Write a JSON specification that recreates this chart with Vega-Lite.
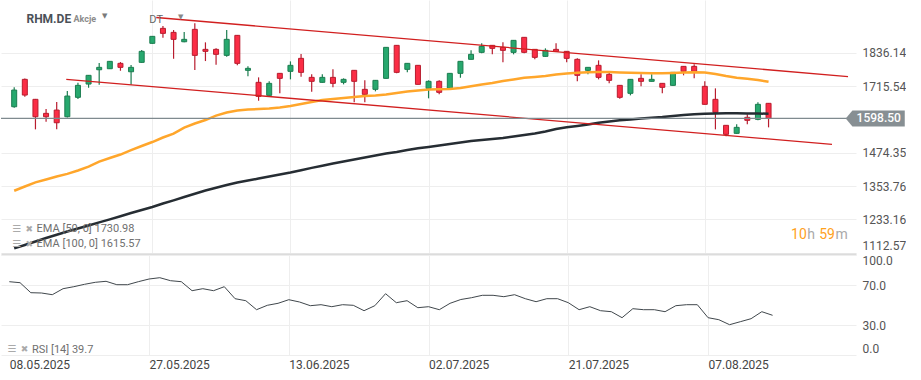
{
  "$schema": "https://vega.github.io/schema/vega-lite/v6.json",
  "padding": 0,
  "background": "white",
  "spacing": 0,
  "config": {"font": "Roboto", "view": {"stroke": null}},
  "datasets": {
    "k": [
      {"i":0,"d":"2025-05-08","o":1640.8,"h":1711.0,"l":1637.2,"c":1701.2,"e50":1336.9,"e100":1128.5,"rsi":73.3},
      {"i":1,"d":"2025-05-09","o":1739.9,"h":1742.8,"l":1677.0,"c":1683.1,"e50":1352.1,"e100":1140.4,"rsi":72.3},
      {"i":2,"d":"2025-05-12","o":1667.6,"h":1669.0,"l":1559.0,"c":1604.6,"e50":1367.3,"e100":1153.1,"rsi":62.3},
      {"i":3,"d":"2025-05-13","o":1616.9,"h":1632.5,"l":1586.5,"c":1604.6,"e50":1377.4,"e100":1165.8,"rsi":62.0},
      {"i":4,"d":"2025-05-14","o":1628.8,"h":1657.8,"l":1559.0,"c":1582.9,"e50":1388.3,"e100":1177.7,"rsi":60.3},
      {"i":5,"d":"2025-05-15","o":1604.6,"h":1697.6,"l":1602.0,"c":1679.5,"e50":1398.0,"e100":1189.3,"rsi":66.3},
      {"i":6,"d":"2025-05-16","o":1674.8,"h":1727.6,"l":1668.6,"c":1718.2,"e50":1410.0,"e100":1200.1,"rsi":68.3},
      {"i":7,"d":"2025-05-19","o":1722.9,"h":1755.5,"l":1709.5,"c":1754.4,"e50":1424.4,"e100":1211.0,"rsi":70.7},
      {"i":8,"d":"2025-05-20","o":1774.6,"h":1798.9,"l":1720.4,"c":1783.3,"e50":1442.5,"e100":1222.6,"rsi":72.7},
      {"i":9,"d":"2025-05-21","o":1778.3,"h":1806.0,"l":1777.0,"c":1805.0,"e50":1455.2,"e100":1233.4,"rsi":73.7},
      {"i":10,"d":"2025-05-22","o":1797.8,"h":1802.5,"l":1771.0,"c":1783.3,"e50":1467.9,"e100":1244.6,"rsi":70.3},
      {"i":11,"d":"2025-05-23","o":1767.4,"h":1791.6,"l":1720.4,"c":1783.3,"e50":1484.1,"e100":1256.2,"rsi":70.3},
      {"i":12,"d":"2025-05-26","o":1801.4,"h":1845.9,"l":1800.0,"c":1841.2,"e50":1498.6,"e100":1267.1,"rsi":73.3},
      {"i":13,"d":"2025-05-27","o":1870.2,"h":1896.5,"l":1869.0,"c":1895.5,"e50":1513.1,"e100":1277.9,"rsi":76.0},
      {"i":14,"d":"2025-05-28","o":1924.4,"h":1932.7,"l":1890.4,"c":1906.3,"e50":1529.4,"e100":1290.6,"rsi":77.3},
      {"i":15,"d":"2025-05-29","o":1909.9,"h":1918.3,"l":1814.4,"c":1884.6,"e50":1543.8,"e100":1302.2,"rsi":74.3},
      {"i":16,"d":"2025-05-30","o":1875.9,"h":1911.0,"l":1873.8,"c":1884.6,"e50":1565.5,"e100":1314.1,"rsi":73.3},
      {"i":17,"d":"2025-06-02","o":1920.8,"h":1942.5,"l":1773.6,"c":1826.7,"e50":1580.0,"e100":1326.0,"rsi":64.3},
      {"i":18,"d":"2025-06-03","o":1848.4,"h":1873.8,"l":1806.1,"c":1841.2,"e50":1592.7,"e100":1337.6,"rsi":66.3},
      {"i":19,"d":"2025-06-04","o":1848.4,"h":1852.1,"l":1792.7,"c":1830.4,"e50":1608.9,"e100":1347.4,"rsi":64.3},
      {"i":20,"d":"2025-06-05","o":1826.7,"h":1918.3,"l":1821.7,"c":1884.6,"e50":1619.8,"e100":1357.5,"rsi":68.3},
      {"i":21,"d":"2025-06-06","o":1899.1,"h":1900.0,"l":1790.6,"c":1797.8,"e50":1627.0,"e100":1366.6,"rsi":56.3},
      {"i":22,"d":"2025-06-09","o":1772.5,"h":1786.9,"l":1750.8,"c":1779.7,"e50":1630.6,"e100":1373.8,"rsi":54.3},
      {"i":23,"d":"2025-06-10","o":1729.1,"h":1747.1,"l":1662.5,"c":1678.4,"e50":1632.5,"e100":1381.0,"rsi":45.3},
      {"i":24,"d":"2025-06-11","o":1682.0,"h":1732.7,"l":1681.0,"c":1725.4,"e50":1634.3,"e100":1388.3,"rsi":49.7},
      {"i":25,"d":"2025-06-12","o":1761.6,"h":1762.5,"l":1689.3,"c":1743.5,"e50":1637.9,"e100":1395.5,"rsi":51.7},
      {"i":26,"d":"2025-06-13","o":1768.9,"h":1805.0,"l":1739.9,"c":1790.6,"e50":1643.3,"e100":1402.7,"rsi":55.3},
      {"i":27,"d":"2025-06-16","o":1815.9,"h":1831.4,"l":1749.3,"c":1765.2,"e50":1650.5,"e100":1411.0,"rsi":53.0},
      {"i":28,"d":"2025-06-17","o":1747.1,"h":1758.0,"l":1695.1,"c":1732.7,"e50":1657.8,"e100":1419.7,"rsi":49.3},
      {"i":29,"d":"2025-06-18","o":1729.1,"h":1758.0,"l":1728.0,"c":1747.1,"e50":1665.0,"e100":1427.3,"rsi":50.3},
      {"i":30,"d":"2025-06-19","o":1747.1,"h":1776.1,"l":1711.0,"c":1725.4,"e50":1668.6,"e100":1435.3,"rsi":48.3},
      {"i":31,"d":"2025-06-20","o":1729.1,"h":1743.5,"l":1721.8,"c":1739.9,"e50":1672.3,"e100":1442.5,"rsi":50.3},
      {"i":32,"d":"2025-06-23","o":1772.5,"h":1773.5,"l":1656.7,"c":1732.7,"e50":1675.9,"e100":1449.8,"rsi":49.7},
      {"i":33,"d":"2025-06-24","o":1703.7,"h":1736.3,"l":1656.7,"c":1685.6,"e50":1679.5,"e100":1457.0,"rsi":44.3},
      {"i":34,"d":"2025-06-25","o":1703.7,"h":1737.0,"l":1696.5,"c":1736.3,"e50":1681.3,"e100":1464.2,"rsi":49.3},
      {"i":35,"d":"2025-06-26","o":1743.5,"h":1856.5,"l":1742.5,"c":1855.7,"e50":1684.9,"e100":1471.5,"rsi":61.3},
      {"i":36,"d":"2025-06-27","o":1862.9,"h":1864.0,"l":1761.6,"c":1765.2,"e50":1690.3,"e100":1476.9,"rsi":52.3},
      {"i":37,"d":"2025-06-30","o":1776.1,"h":1798.5,"l":1765.2,"c":1797.8,"e50":1695.8,"e100":1484.1,"rsi":54.3},
      {"i":38,"d":"2025-07-01","o":1790.6,"h":1791.5,"l":1721.0,"c":1721.8,"e50":1699.4,"e100":1490.3,"rsi":47.3},
      {"i":39,"d":"2025-07-02","o":1707.3,"h":1736.3,"l":1671.2,"c":1732.7,"e50":1703.0,"e100":1495.0,"rsi":48.3},
      {"i":40,"d":"2025-07-03","o":1732.7,"h":1736.3,"l":1685.6,"c":1692.9,"e50":1704.1,"e100":1500.4,"rsi":45.3},
      {"i":41,"d":"2025-07-04","o":1707.3,"h":1762.5,"l":1706.5,"c":1761.6,"e50":1704.8,"e100":1505.8,"rsi":51.7},
      {"i":42,"d":"2025-07-07","o":1761.6,"h":1806.0,"l":1745.7,"c":1805.0,"e50":1708.4,"e100":1511.3,"rsi":55.5},
      {"i":43,"d":"2025-07-08","o":1812.3,"h":1844.8,"l":1811.5,"c":1830.4,"e50":1714.6,"e100":1516.7,"rsi":57.3},
      {"i":44,"d":"2025-07-09","o":1837.6,"h":1870.2,"l":1834.0,"c":1859.3,"e50":1721.1,"e100":1520.3,"rsi":59.7},
      {"i":45,"d":"2025-07-10","o":1862.9,"h":1864.0,"l":1830.4,"c":1852.1,"e50":1726.5,"e100":1523.9,"rsi":59.7},
      {"i":46,"d":"2025-07-11","o":1855.7,"h":1873.8,"l":1801.4,"c":1844.8,"e50":1733.8,"e100":1527.5,"rsi":58.3},
      {"i":47,"d":"2025-07-14","o":1837.6,"h":1882.0,"l":1830.4,"c":1881.0,"e50":1739.2,"e100":1533.0,"rsi":60.3},
      {"i":48,"d":"2025-07-15","o":1891.9,"h":1893.0,"l":1834.0,"c":1837.6,"e50":1745.3,"e100":1538.4,"rsi":56.3},
      {"i":49,"d":"2025-07-16","o":1848.4,"h":1849.5,"l":1812.3,"c":1819.5,"e50":1748.2,"e100":1543.8,"rsi":53.3},
      {"i":50,"d":"2025-07-17","o":1823.1,"h":1852.1,"l":1822.0,"c":1844.8,"e50":1751.8,"e100":1551.1,"rsi":56.3},
      {"i":51,"d":"2025-07-18","o":1848.4,"h":1870.2,"l":1840.0,"c":1841.2,"e50":1757.3,"e100":1560.1,"rsi":56.3},
      {"i":52,"d":"2025-07-21","o":1841.2,"h":1842.0,"l":1801.4,"c":1815.9,"e50":1760.9,"e100":1566.2,"rsi":52.3},
      {"i":53,"d":"2025-07-22","o":1812.3,"h":1815.9,"l":1732.7,"c":1754.4,"e50":1763.4,"e100":1571.0,"rsi":45.3},
      {"i":54,"d":"2025-07-23","o":1772.5,"h":1784.0,"l":1758.0,"c":1783.3,"e50":1765.2,"e100":1576.4,"rsi":48.3},
      {"i":55,"d":"2025-07-24","o":1790.6,"h":1808.6,"l":1739.9,"c":1747.1,"e50":1766.3,"e100":1582.9,"rsi":44.3},
      {"i":56,"d":"2025-07-25","o":1758.0,"h":1765.2,"l":1725.4,"c":1736.3,"e50":1766.3,"e100":1587.2,"rsi":43.3},
      {"i":57,"d":"2025-07-28","o":1718.2,"h":1719.0,"l":1669.7,"c":1674.8,"e50":1764.5,"e100":1591.6,"rsi":37.3},
      {"i":58,"d":"2025-07-29","o":1689.3,"h":1741.0,"l":1682.0,"c":1739.9,"e50":1763.4,"e100":1594.5,"rsi":46.3},
      {"i":59,"d":"2025-07-30","o":1743.5,"h":1758.0,"l":1714.6,"c":1732.7,"e50":1762.7,"e100":1598.1,"rsi":45.3},
      {"i":60,"d":"2025-07-31","o":1732.7,"h":1758.0,"l":1732.0,"c":1739.9,"e50":1761.6,"e100":1601.0,"rsi":45.3},
      {"i":61,"d":"2025-08-01","o":1725.4,"h":1726.0,"l":1689.3,"c":1711.0,"e50":1761.6,"e100":1603.5,"rsi":43.3},
      {"i":62,"d":"2025-08-04","o":1718.2,"h":1766.0,"l":1717.0,"c":1765.2,"e50":1762.7,"e100":1607.1,"rsi":49.3},
      {"i":63,"d":"2025-08-05","o":1786.9,"h":1787.5,"l":1754.4,"c":1768.9,"e50":1764.5,"e100":1610.8,"rsi":50.3},
      {"i":64,"d":"2025-08-06","o":1786.9,"h":1794.2,"l":1743.5,"c":1768.9,"e50":1765.2,"e100":1613.6,"rsi":50.3},
      {"i":65,"d":"2025-08-07","o":1714.6,"h":1732.7,"l":1648.5,"c":1649.5,"e50":1764.5,"e100":1615.1,"rsi":37.3},
      {"i":66,"d":"2025-08-08","o":1667.6,"h":1707.3,"l":1559.0,"c":1620.5,"e50":1759.1,"e100":1616.2,"rsi":35.3},
      {"i":67,"d":"2025-08-11","o":1573.5,"h":1574.5,"l":1533.7,"c":1540.9,"e50":1751.8,"e100":1616.9,"rsi":30.3},
      {"i":68,"d":"2025-08-12","o":1544.5,"h":1577.1,"l":1543.5,"c":1566.2,"e50":1745.7,"e100":1616.9,"rsi":33.3},
      {"i":69,"d":"2025-08-13","o":1602.4,"h":1613.3,"l":1577.1,"c":1591.6,"e50":1741.7,"e100":1616.5,"rsi":36.3},
      {"i":70,"d":"2025-08-14","o":1595.2,"h":1656.7,"l":1591.6,"c":1649.5,"e50":1737.4,"e100":1616.2,"rsi":43.3},
      {"i":71,"d":"2025-08-15","o":1653.1,"h":1654.0,"l":1566.2,"c":1598.5,"e50":1730.98,"e100":1615.57,"rsi":39.7}
    ],
    "ch": [
      {"line":"top","i":13.37,"p":1963.7},
      {"line":"top","i":78.48,"p":1749.9},
      {"line":"bot","i":4.9,"p":1740.1},
      {"line":"bot","i":76.97,"p":1504.9}
    ]
  },
  "vconcat": [
    {
      "width": 855,
      "height": 254,
      "data": {"name": "k"},
      "layer": [
        {
          "mark": {"type": "rule", "strokeWidth": 1.2},
          "encoding": {
            "x": {"field": "i", "type": "quantitative", "title": null,
              "scale": {"domain": [-0.772, 78.76], "nice": false, "zero": false},
              "axis": {"values": [0, 13, 26, 39, 52, 65], "tickCount": 20, "labels": false, "ticks": false, "domain": true, "domainColor": "#dcdcdc", "domainWidth": 2, "grid": true,
                "gridColor": {"condition": {"test": "datum.value === 0", "value": "rgba(0,0,0,0)"}, "value": "#eeeeee"}}},
            "y": {"field": "l", "type": "quantitative", "title": null,
              "scale": {"domain": [1108, 2027], "nice": false, "zero": false},
              "axis": {"orient": "right", "values": [1112.57, 1233.16, 1353.76, 1474.35, 1715.54, 1836.14], "tickCount": 20, "format": ".2f", "domain": false, "ticks": false, "grid": true, "gridColor": "#eeeeee",
                "labelColor": "#555555", "labelFontSize": 12, "labelPadding": 6, "labelOverlap": false,
                "labelBaseline": {"condition": {"test": "datum.value < 1200", "value": "bottom"}, "value": "middle"}}},
            "y2": {"field": "h"},
            "color": {"condition": {"test": "datum.c >= datum.o", "value": "#1c7d50"}, "value": "#b81c2e"}
          }
        },
        {
          "mark": {"type": "bar", "size": 5, "strokeWidth": 1},
          "encoding": {
            "x": {"field": "i", "type": "quantitative", "title": null},
            "y": {"field": "o", "type": "quantitative", "title": null},
            "y2": {"field": "c"},
            "fill": {"condition": {"test": "datum.c >= datum.o", "value": "#27a86e"}, "value": "#fb2d45"},
            "stroke": {"condition": {"test": "datum.c >= datum.o", "value": "#1c7d50"}, "value": "#b81c2e"}
          }
        },
        {
          "mark": {"type": "line", "color": "#ffa62b", "strokeWidth": 2.5},
          "encoding": {
            "x": {"field": "i", "type": "quantitative", "title": null},
            "y": {"field": "e50", "type": "quantitative", "title": null}
          }
        },
        {
          "mark": {"type": "line", "color": "#262d33", "strokeWidth": 2.5},
          "encoding": {
            "x": {"field": "i", "type": "quantitative", "title": null},
            "y": {"field": "e100", "type": "quantitative", "title": null}
          }
        },
        {
          "data": {"name": "ch"},
          "mark": {"type": "line", "color": "#d11f1f", "strokeWidth": 1.3},
          "encoding": {
            "x": {"field": "i", "type": "quantitative", "title": null},
            "y": {"field": "p", "type": "quantitative", "title": null},
            "detail": {"field": "line"}
          }
        },
        {
          "data": {"values": [{}]},
          "mark": {"type": "rule", "color": "#7f8a8f", "strokeWidth": 1.2},
          "encoding": {"y": {"datum": 1598.5, "type": "quantitative"}}
        },
        {
          "data": {"values": [{}]},
          "mark": {"type": "point", "shape": "M -1 0 L -0.773 -0.271 L 1 -0.271 L 1 0.271 L -0.773 0.271 Z", "size": 3481, "filled": true, "color": "#878f93", "opacity": 1},
          "encoding": {"x": {"datum": 81.04, "type": "quantitative"}, "y": {"datum": 1598.5, "type": "quantitative"}}
        },
        {
          "data": {"values": [{}]},
          "mark": {"type": "text", "text": "1598.50", "color": "white", "fontSize": 12, "fontWeight": 500, "align": "center", "baseline": "middle"},
          "encoding": {"x": {"datum": 81.37, "type": "quantitative"}, "y": {"datum": 1598.5, "type": "quantitative"}}
        },
        {
          "data": {"values": [{}]},
          "mark": {"type": "text", "text": "RHM.DE", "color": "#4b5158", "fontSize": 12, "fontWeight": "bold", "align": "left", "baseline": "middle"},
          "encoding": {"x": {"datum": 1.153, "type": "quantitative"}, "y": {"datum": 1957.2, "type": "quantitative"}}
        },
        {
          "data": {"values": [{}]},
          "mark": {"type": "text", "text": "Akcje", "color": "#8c8c8c", "fontSize": 9, "fontWeight": "bold", "align": "left", "baseline": "middle"},
          "encoding": {"x": {"datum": 5.58, "type": "quantitative"}, "y": {"datum": 1957.2, "type": "quantitative"}}
        },
        {
          "data": {"values": [{}]},
          "mark": {"type": "text", "text": "▼", "font": "DejaVu Sans", "color": "#7a7a7a", "fontSize": 7, "align": "center", "baseline": "middle"},
          "encoding": {"x": {"datum": 8.51, "type": "quantitative"}, "y": {"datum": 1969.1, "type": "quantitative"}}
        },
        {
          "data": {"values": [{}]},
          "mark": {"type": "text", "text": "DT", "color": "#666666", "fontSize": 11, "align": "left", "baseline": "middle"},
          "encoding": {"x": {"datum": 12.72, "type": "quantitative"}, "y": {"datum": 1954.6, "type": "quantitative"}}
        },
        {
          "data": {"values": [{}]},
          "mark": {"type": "text", "text": "▼", "font": "DejaVu Sans", "color": "#888888", "fontSize": 7, "align": "center", "baseline": "middle"},
          "encoding": {"x": {"datum": 15.67, "type": "quantitative"}, "y": {"datum": 1965.5, "type": "quantitative"}}
        },
        {
          "data": {"values": [{}]},
          "mark": {"type": "text", "text": "☰", "font": "DejaVu Sans", "color": "#aaaaaa", "fontSize": 10, "align": "center", "baseline": "middle"},
          "encoding": {"x": {"datum": 0.25, "type": "quantitative"}, "y": {"datum": 1197.4, "type": "quantitative"}}
        },
        {
          "data": {"values": [{}]},
          "mark": {"type": "text", "text": "✖", "font": "DejaVu Sans", "color": "#aaaaaa", "fontSize": 9, "align": "center", "baseline": "middle"},
          "encoding": {"x": {"datum": 1.41, "type": "quantitative"}, "y": {"datum": 1197.4, "type": "quantitative"}}
        },
        {
          "data": {"values": [{}]},
          "mark": {"type": "text", "text": "EMA [50, 0] 1730.98", "color": "#707070", "fontSize": 11, "align": "left", "baseline": "middle"},
          "encoding": {"x": {"datum": 2.11, "type": "quantitative"}, "y": {"datum": 1197.4, "type": "quantitative"}}
        },
        {
          "data": {"values": [{}]},
          "mark": {"type": "text", "text": "☰", "font": "DejaVu Sans", "color": "#aaaaaa", "fontSize": 10, "align": "center", "baseline": "middle"},
          "encoding": {"x": {"datum": 0.25, "type": "quantitative"}, "y": {"datum": 1145.3, "type": "quantitative"}}
        },
        {
          "data": {"values": [{}]},
          "mark": {"type": "text", "text": "✖", "font": "DejaVu Sans", "color": "#aaaaaa", "fontSize": 9, "align": "center", "baseline": "middle"},
          "encoding": {"x": {"datum": 1.41, "type": "quantitative"}, "y": {"datum": 1145.3, "type": "quantitative"}}
        },
        {
          "data": {"values": [{}]},
          "mark": {"type": "text", "text": "EMA [100, 0] 1615.57", "color": "#707070", "fontSize": 11, "align": "left", "baseline": "middle"},
          "encoding": {"x": {"datum": 2.11, "type": "quantitative"}, "y": {"datum": 1145.3, "type": "quantitative"}}
        },
        {
          "data": {"values": [{}]},
          "mark": {"type": "text", "text": "10", "color": "#ffa11c", "fontSize": 14, "align": "left", "baseline": "middle"},
          "encoding": {"x": {"datum": 73.12, "type": "quantitative"}, "y": {"datum": 1176.7, "type": "quantitative"}}
        },
        {
          "data": {"values": [{}]},
          "mark": {"type": "text", "text": "h", "color": "#aaaaaa", "fontSize": 14, "align": "left", "baseline": "middle"},
          "encoding": {"x": {"datum": 74.64, "type": "quantitative"}, "y": {"datum": 1176.7, "type": "quantitative"}}
        },
        {
          "data": {"values": [{}]},
          "mark": {"type": "text", "text": "59", "color": "#ffa11c", "fontSize": 14, "align": "left", "baseline": "middle"},
          "encoding": {"x": {"datum": 75.76, "type": "quantitative"}, "y": {"datum": 1176.7, "type": "quantitative"}}
        },
        {
          "data": {"values": [{}]},
          "mark": {"type": "text", "text": "m", "color": "#aaaaaa", "fontSize": 14, "align": "left", "baseline": "middle"},
          "encoding": {"x": {"datum": 77.3, "type": "quantitative"}, "y": {"datum": 1176.7, "type": "quantitative"}}
        }
      ]
    },
    {
      "width": 855,
      "height": 100,
      "data": {"name": "k"},
      "layer": [
        {
          "mark": {"type": "line", "color": "#40474c", "strokeWidth": 1},
          "encoding": {
            "x": {"field": "i", "type": "quantitative", "title": null,
              "scale": {"domain": [-0.772, 78.76], "nice": false, "zero": false},
              "axis": {"values": [0, 13, 26, 39, 52, 65], "tickCount": 20, "labelExpr": "['08.05.2025','27.05.2025','13.06.2025','02.07.2025','21.07.2025','07.08.2025'][round(datum.value/13)]",
                "labelAlign": "left", "labelPadding": 4, "labelColor": "#444444", "labelFontSize": 12, "labelOverlap": false, "ticks": false, "domain": false, "grid": true,
                "gridColor": {"condition": {"test": "datum.value === 0", "value": "rgba(0,0,0,0)"}, "value": "#eeeeee"}}},
            "y": {"field": "rsi", "type": "quantitative", "title": null,
              "scale": {"domain": [0, 100], "nice": false, "zero": false},
              "axis": {"orient": "right", "values": [0, 30, 70, 100], "tickCount": 20, "format": ".1f", "labelOverlap": false, "domain": false, "ticks": false, "grid": true, "gridColor": "#eeeeee",
                "labelColor": "#555555", "labelFontSize": 12, "labelPadding": 6,
                "labelBaseline": {"condition": [{"test": "datum.value >= 100", "value": "top"}, {"test": "datum.value <= 0", "value": "bottom"}], "value": "middle"}}}
          }
        },
        {
          "data": {"values": [{}]},
          "mark": {"type": "text", "text": "☰", "font": "DejaVu Sans", "color": "#aaaaaa", "fontSize": 10, "align": "center", "baseline": "middle"},
          "encoding": {"x": {"datum": 0.25, "type": "quantitative"}, "y": {"datum": 6, "type": "quantitative"}}
        },
        {
          "data": {"values": [{}]},
          "mark": {"type": "text", "text": "✖", "font": "DejaVu Sans", "color": "#aaaaaa", "fontSize": 9, "align": "center", "baseline": "middle"},
          "encoding": {"x": {"datum": 1.41, "type": "quantitative"}, "y": {"datum": 6, "type": "quantitative"}}
        },
        {
          "data": {"values": [{}]},
          "mark": {"type": "text", "text": "RSI [14] 39.7", "color": "#707070", "fontSize": 11, "align": "left", "baseline": "middle"},
          "encoding": {"x": {"datum": 2.11, "type": "quantitative"}, "y": {"datum": 5.3, "type": "quantitative"}}
        }
      ]
    }
  ]
}
